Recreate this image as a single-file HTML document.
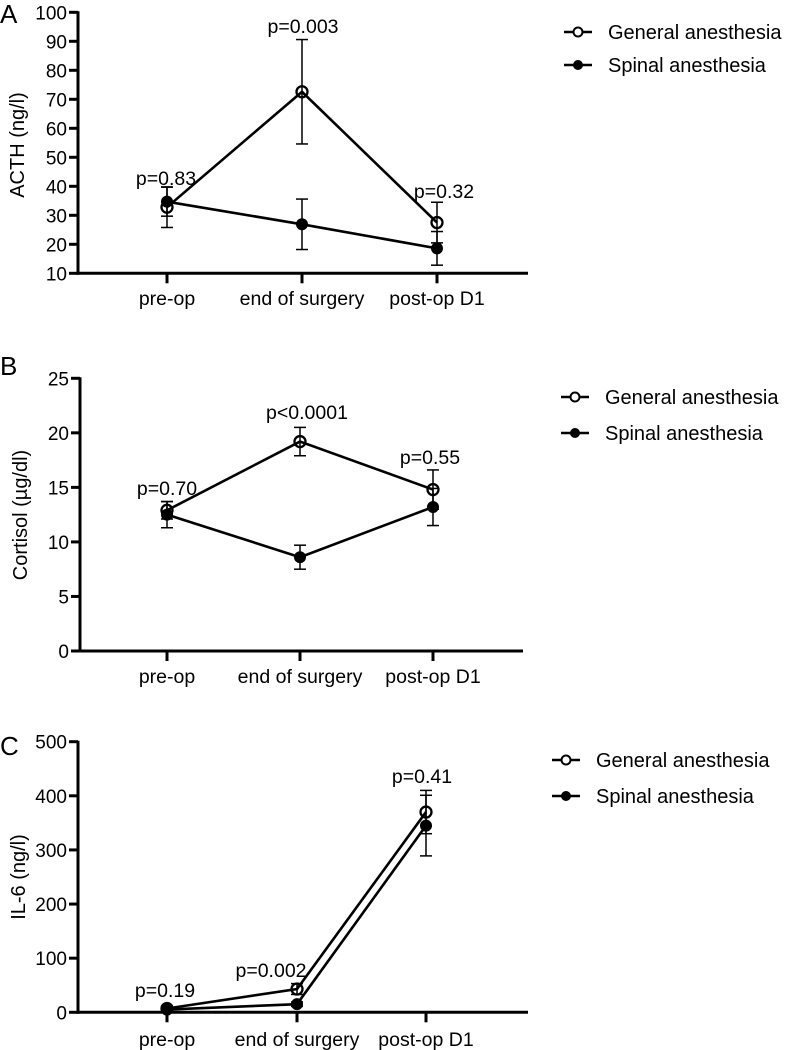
<!DOCTYPE html>
<html><head><meta charset="utf-8"><style>
body{margin:0;background:#fff}
svg{display:block;font-family:"Liberation Sans",Arial,sans-serif}
</style></head><body>
<svg id="chart" width="797" height="1050"></svg>
<script>
const categories = ["pre-op","end of surgery","post-op D1"];
// Panel A: ACTH
const acthGeneral = [32.8, 72.6, 27.5];
const acthGeneralErr = [7, 18, 7];
const acthSpinal = [34.7, 26.9, 18.6];
const acthSpinalErr = [5, 8.7, 5.8];
const acthTicks = [10,20,30,40,50,60,70,80,90,100];
const acthP = ["p=0.83","p=0.003","p=0.32"];
// Panel B: Cortisol
const cortGeneral = [12.9, 19.2, 14.8];
const cortGeneralErr = [0.8, 1.3, 1.8];
const cortSpinal = [12.5, 8.6, 13.2];
const cortSpinalErr = [1.2, 1.1, 1.7];
const cortTicks = [0,5,10,15,20,25];
const cortP = ["p=0.70","p<0.0001","p=0.55"];
// Panel C: IL-6
const il6General = [7, 43, 370];
const il6GeneralErr = [3, 10, 40];
const il6Spinal = [5, 15, 345];
const il6SpinalErr = [2, 4, 56];
const il6Ticks = [0,100,200,300,400,500];
const il6P = ["p=0.19","p=0.002","p=0.41"];

const NS="http://www.w3.org/2000/svg";
const svg=document.getElementById('chart');
function mk(tag,attrs,parent){const e=document.createElementNS(NS,tag);for(const k in attrs)e.setAttribute(k,attrs[k]);(parent||svg).appendChild(e);return e;}
function txt(s,attrs,parent){const e=mk('text',attrs,parent);e.textContent=s;return e;}

function panel(cfg){
  const g=mk('g',{});
  
  
  const ymin=cfg.ticks[0], ymax=cfg.ticks[cfg.ticks.length-1];
  const y=v=>cfg.yBot-(v-ymin)/(ymax-ymin)*(cfg.yBot-cfg.yTop);
  const x=i=>cfg.xs[i];
  const L=txt(cfg.letter,{x:0,y:cfg.letterY,'font-size':26},g);
  
  
  const ya=mk('line',{x1:cfg.ax,y1:cfg.yTop-1,x2:cfg.ax,y2:cfg.yBot+1.5,stroke:'#000','stroke-width':3},g);
  
  
  const xa=mk('line',{x1:cfg.ax-1.5,y1:cfg.yBot,x2:cfg.axEnd,y2:cfg.yBot,stroke:'#000','stroke-width':3},g);
  
  
  cfg.ticks.forEach(t=>{
    mk('line',{x1:cfg.ax-9,y1:y(t),x2:cfg.ax,y2:y(t),stroke:'#000','stroke-width':3},g);
    const tl=txt(String(t),{x:cfg.ax-11,y:y(t)+7,'font-size':19,'text-anchor':'end'},g);
    
    
  });
  categories.forEach((c,i)=>{
    mk('line',{x1:x(i),y1:cfg.yBot,x2:x(i),y2:cfg.yBot+10,stroke:'#000','stroke-width':3},g);
    const cl=txt(c,{x:x(i),y:cfg.catY,'font-size':19.5,'text-anchor':'middle'},g);
    
    
  });
  const yt=txt(cfg.title,{x:0,y:0,'font-size':20,'text-anchor':'middle',transform:`translate(${cfg.titleX},${cfg.titleY}) rotate(-90)`},g);
  
  
  [[cfg.gen,cfg.genErr,false],[cfg.sp,cfg.spErr,true]].forEach(([vals,err,filled])=>{
    const pts=vals.map((v,i)=>x(i)+','+y(v)).join(' ');
    const pl=mk('polyline',{points:pts,fill:'none',stroke:'#000','stroke-width':2.6},g);
    
    
    vals.forEach((v,i)=>{
      const e=err[i];
      mk('line',{x1:x(i),y1:y(v+e),x2:x(i),y2:y(v-e),stroke:'#000','stroke-width':1.5},g);
      mk('line',{x1:x(i)-6,y1:y(v+e),x2:x(i)+6,y2:y(v+e),stroke:'#000','stroke-width':1.5},g);
      mk('line',{x1:x(i)-6,y1:y(v-e),x2:x(i)+6,y2:y(v-e),stroke:'#000','stroke-width':1.5},g);
      const m=mk('circle',{cx:x(i),cy:y(v),r:5.5,fill:filled?'#000':'none',stroke:'#000','stroke-width':filled?1:2.3},g);
      
      
    });
  });
  cfg.p.forEach((s,i)=>{
    const pt=txt(s,{x:cfg.pPos[i][0],y:cfg.pPos[i][1],'font-size':19.5,'text-anchor':'middle'},g);
    
    
  });
  [['General anesthesia',false],['Spinal anesthesia',true]].forEach(([lab,filled],k)=>{
    const ly=cfg.legY[k], lx=cfg.legX;
    const lg=mk('g',{},g);
    
    
    mk('line',{x1:lx,y1:ly,x2:lx+28,y2:ly,stroke:'#000','stroke-width':2.6},lg);
    mk('circle',{cx:lx+14,cy:ly,r:4.5,fill:filled?'#000':'#fff',stroke:'#000','stroke-width':filled?1:2},lg);
    txt(lab,{x:lx+44,y:ly+7,'font-size':20},lg);
  });
}

panel({name:'panel-a-acth',letter:'A',letterY:23,ax:78,axEnd:528,yTop:12.3,yBot:273.3,xs:[167,302,437],ticks:acthTicks,
  catY:305,title:'ACTH (ng/l)',titleX:24,titleY:145,gen:acthGeneral,genErr:acthGeneralErr,sp:acthSpinal,spErr:acthSpinalErr,
  p:acthP,pPos:[[166,185],[303,33],[444,198]],legX:564,legY:[32,65]});
panel({name:'panel-b-cortisol',letter:'B',letterY:375,ax:80,axEnd:523,yTop:378.3,yBot:651,xs:[167,300,433],ticks:cortTicks,
  catY:683,title:'Cortisol (µg/dl)',titleX:27,titleY:515,gen:cortGeneral,genErr:cortGeneralErr,sp:cortSpinal,spErr:cortSpinalErr,
  p:cortP,pPos:[[167,495],[307,419],[430,464]],legX:561,legY:[397,433]});
panel({name:'panel-c-il6',letter:'C',letterY:755,ax:78,axEnd:528,yTop:741.7,yBot:1012.3,xs:[167,297,426],ticks:il6Ticks,
  catY:1046,title:'IL-6 (ng/l)',titleX:25,titleY:877,gen:il6General,genErr:il6GeneralErr,sp:il6Spinal,spErr:il6SpinalErr,
  p:il6P,pPos:[[165,997],[271,977],[422,783]],legX:552,legY:[760,796]});
</script>
</body></html>
